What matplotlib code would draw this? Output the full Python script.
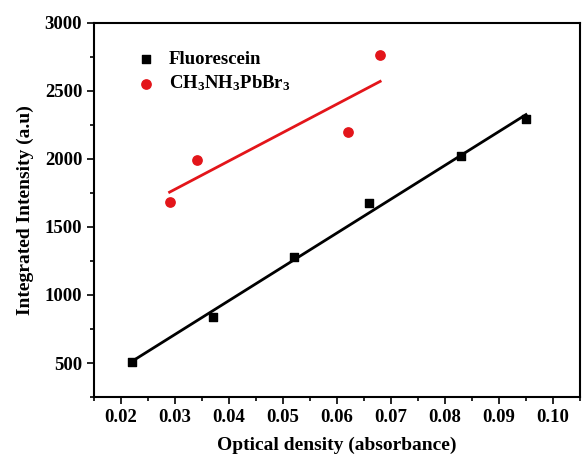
import numpy as np
import matplotlib
matplotlib.use("Agg")
import matplotlib.pyplot as plt
from matplotlib.ticker import MultipleLocator

plt.rcParams['font.family'] = 'Liberation Serif'
plt.rcParams['font.weight'] = 'bold'
plt.rcParams['mathtext.fontset'] = 'custom'
plt.rcParams['mathtext.bf'] = 'Liberation Serif:bold'
plt.rcParams['mathtext.rm'] = 'Liberation Serif:bold'
plt.rcParams['mathtext.default'] = 'bf'

# data
fl_od = [0.022, 0.037, 0.052, 0.066, 0.083, 0.095]
fl_int = [510, 835, 1280, 1675, 2020, 2290]
pv_od = [0.029, 0.034, 0.062, 0.068]
pv_int = [1680, 1990, 2200, 2760]

fig = plt.figure(figsize=(5.82, 4.66), dpi=100)
ax = fig.add_axes([0.1615, 0.148, 0.835, 0.803])

# linear fits
p1 = np.polyfit(fl_od, fl_int, 1)
p2 = np.polyfit(pv_od, pv_int, 1)
x1 = np.array([min(fl_od), max(fl_od)])
x2 = np.array([min(pv_od), max(pv_od)])
ax.plot(x1, np.polyval(p1, x1), color='black', lw=2)
ax.plot(x2, np.polyval(p2, x2), color='#e3151a', lw=2)

ax.scatter(fl_od, fl_int, marker='s', s=40, color='black', label='Fluorescein', zorder=3)
ax.scatter(pv_od, pv_int, marker='o', s=45, color='#e3151a', label='CH$_3$NH$_3$PbBr$_3$', zorder=3)

ax.set_xlim(0.015, 0.105)
ax.set_ylim(250, 3000)
ax.xaxis.set_minor_locator(MultipleLocator(0.005))
ax.yaxis.set_minor_locator(MultipleLocator(250))
ax.set_xticks(np.arange(0.02, 0.1001, 0.01))
ax.set_xticklabels(['0.02', '0.03', '0.04', '0.05', '0.06', '0.07', '0.08', '0.09', '0.10'])
ax.set_yticks([500, 1000, 1500, 2000, 2500, 3000])
ax.tick_params(which='major', direction='out', length=5, width=1.2, labelsize=13.5)
ax.tick_params(which='minor', direction='out', length=3, width=1.2)
for s in ax.spines.values():
    s.set_linewidth(1.5)

ax.set_xlabel('Optical density (absorbance)', fontsize=14, fontweight='bold', labelpad=8)
ax.set_ylabel('Integrated Intensity (a.u)', fontsize=14, fontweight='bold', labelpad=8)

ax.legend(loc='upper left', bbox_to_anchor=(0.05, 0.97), frameon=False, fontsize=13.5,
          handletextpad=0.6, labelspacing=0.3, handlelength=1.2)

fig.savefig('out.png', dpi=100)
